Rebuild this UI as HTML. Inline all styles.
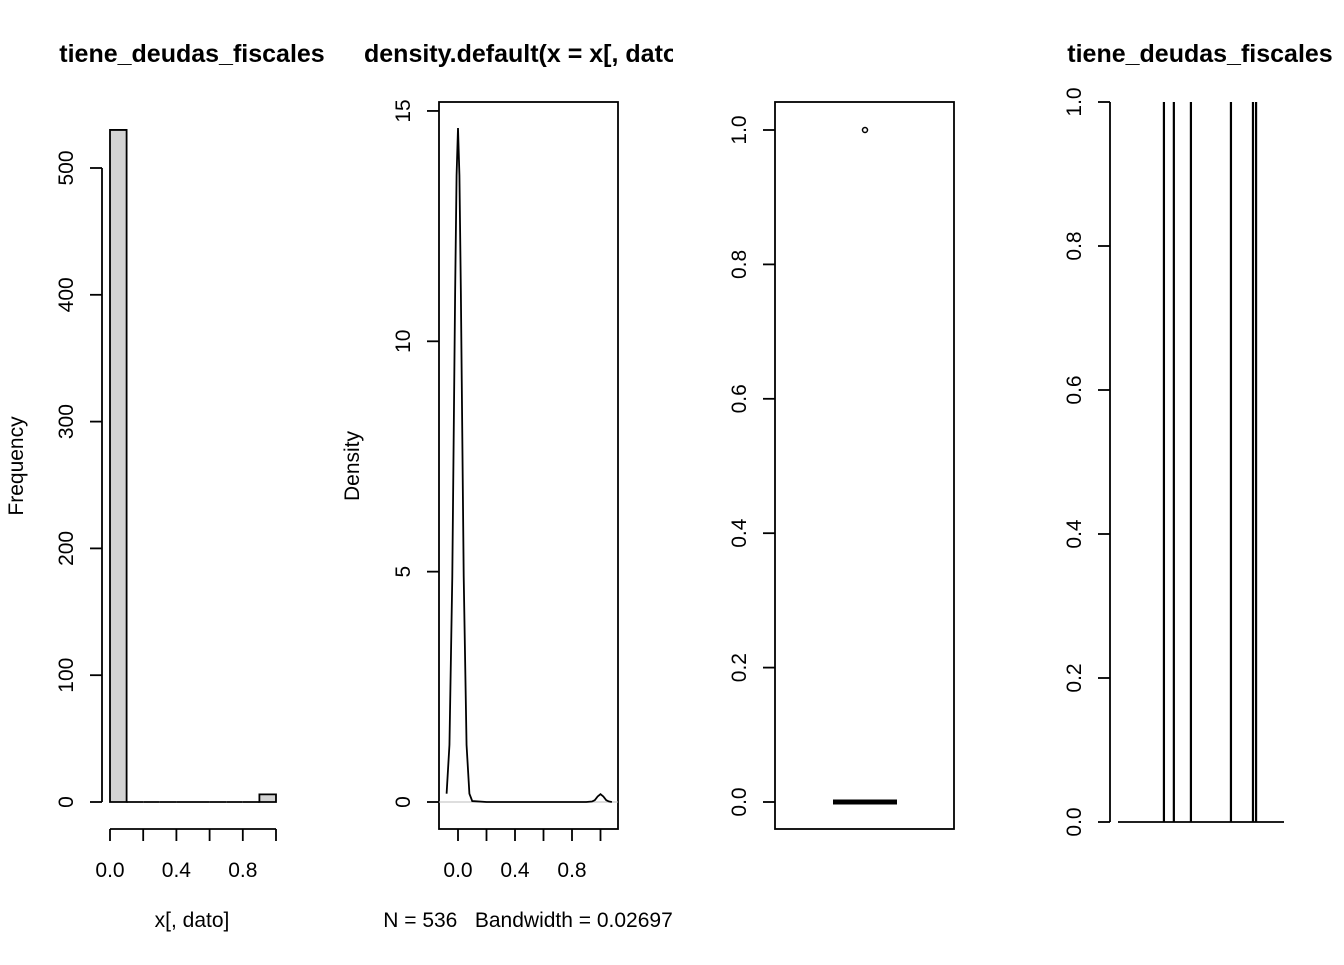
<!DOCTYPE html>
<html><head><meta charset="utf-8"><style>
body{margin:0;background:#fff}
svg text{font-family:"Liberation Sans",Arial,sans-serif;fill:#000}
</style></head><body>
<svg id="c" width="1344" height="960" xmlns="http://www.w3.org/2000/svg">
<defs><clipPath id="clip2"><rect x="330" y="0" width="343" height="100"/></clipPath></defs>
</svg>
<script>
// histogram data
const histBreaks=[0,0.1,0.2,0.3,0.4,0.5,0.6,0.7,0.8,0.9,1.0];
const histCounts=[530,0,0,0,0,0,0,0,0,6];
const histYTicks=[0,100,200,300,400,500];
const histXTicks=[0,0.2,0.4,0.6,0.8,1.0];
const histXLabels=["0.0","0.4","0.8"];
// density data
const densX=[-0.08,-0.06,-0.04,-0.02,-0.01,0,0.01,0.02,0.04,0.06,0.08,0.10,0.2,0.4,0.6,0.8,0.9,0.94,0.96,0.98,1.0,1.02,1.04,1.06,1.08];
const densY=[0.18,1.24,4.9,11.1,13.6,14.63,13.6,11.1,4.9,1.24,0.18,0.02,0,0,0,0,0,0.01,0.04,0.12,0.17,0.12,0.04,0.01,0.0];
const densYTicks=[0,5,10,15];
const densXTicks=[0,0.2,0.4,0.6,0.8,1.0];
// boxplot data
const boxMedian=0, boxQ1=0, boxQ3=0, boxOutliers=[1];
const boxYTicks=[0,0.2,0.4,0.6,0.8,1.0];
// index plot data
const idxN=536;
const idxOnes=[149,181,236,365,436,446];
const idxYTicks=[0,0.2,0.4,0.6,0.8,1.0];

const svg=document.getElementById('c');const NS='http://www.w3.org/2000/svg';
function el(t,a,txt){const e=document.createElementNS(NS,t);for(const k in a)e.setAttribute(k,a[k]);if(txt!==undefined)e.textContent=txt;svg.appendChild(e);return e;}
function ln(x1,y1,x2,y2,w,c){return el('line',{x1,y1,x2,y2,stroke:c||'#000','stroke-width':w||1.8});}
const FS=21;
function ytick(x,y,label){const l=ln(x-12,y,x,y,1.8);
 const t=el('text',{x:x-29,y:y,'font-size':FS,'text-anchor':'middle',transform:`rotate(-90 ${x-29} ${y})`},label);
 }
function xlab(x,y,s){const t=el('text',{x,y,'font-size':FS,'text-anchor':'middle'},s);}
function title(x,y,s,anchor){const t=el('text',{x,y,'font-size':25,'font-weight':'bold','text-anchor':anchor||'middle'},s);return t;}

// Panel 1 histogram
{const hx=v=>110+v*166, hy=v=>802-v*1.268;
 title(192,62,'tiene_deudas_fiscales');
 for(let i=0;i<histCounts.length;i++){const x0=hx(histBreaks[i]),x1=hx(histBreaks[i+1]),y=hy(histCounts[i]);
  const r=el('path',{d:`M${x0},802L${x0},${y}L${x1},${y}L${x1},802Z`,fill:'#d3d3d3',stroke:'#000','stroke-width':1.8});
  }
 ln(102,hy(0),102,hy(500));histYTicks.forEach(v=>ytick(102,hy(v),String(v)));
 ln(hx(0),829,hx(1),829);histXTicks.forEach(v=>ln(hx(v),829,hx(v),841));
 histXLabels.forEach(s=>xlab(hx(+s),877,s));
 const t=el('text',{x:192,y:927,'font-size':FS,'text-anchor':'middle'},'x[, dato]');
 const f=el('text',{x:23,y:466,'font-size':FS,'text-anchor':'middle',transform:'rotate(-90 23 466)'},'Frequency');}

// Panel 2 density
{const dx=v=>458+v*142.5, dy=v=>802-v*46.07;
 const tt=title(364,62,'density.default(x = x[, dato]','start');tt.setAttribute('clip-path','url(#clip2)');
 const fr=el('rect',{x:439,y:102,width:179,height:727,fill:'none',stroke:'#000','stroke-width':1.8});
 ln(439,dy(0),618,dy(0),1,'#bebebe');
 const p=el('path',{d:densX.map((x,i)=>(i?'L':'M')+dx(x)+','+dy(densY[i])).join(''),fill:'none',stroke:'#000','stroke-width':1.8});
 
 densYTicks.forEach(v=>ytick(439,dy(v),String(v)));
 densXTicks.forEach(v=>ln(dx(v),829,dx(v),841));
 ["0.0","0.4","0.8"].forEach(s=>xlab(dx(+s),877,s));
 const t=el('text',{x:528,y:927,'font-size':FS,'text-anchor':'middle'},'N = 536   Bandwidth = 0.02697');t.style.whiteSpace='pre';
 const f=el('text',{x:359,y:466,'font-size':FS,'text-anchor':'middle',transform:'rotate(-90 359 466)'},'Density');}

// Panel 3 boxplot
{const by=v=>802-v*672;
 const fr=el('rect',{x:775,y:102,width:179,height:727,fill:'none',stroke:'#000','stroke-width':1.8});
 const m=ln(833,by(boxMedian),897,by(boxMedian),5);
 boxOutliers.forEach(v=>{const c=el('circle',{cx:865,cy:by(v),r:2.5,fill:'none',stroke:'#000','stroke-width':1.5});});
 boxYTicks.forEach(v=>ytick(775,by(v),v.toFixed(1)));}

// Panel 4 index plot
{const ix=i=>1118+(i-1)*166/(idxN-1), iy=v=>822-v*720;
 title(1200,62,'tiene_deudas_fiscales');
 ln(1110,iy(0),1110,iy(1));idxYTicks.forEach(v=>ytick(1110,iy(v),v.toFixed(1)));
 const b=ln(ix(1),iy(0),ix(idxN),iy(0));
 idxOnes.forEach(i=>{const l=ln(ix(i),iy(0),ix(i),iy(1),2.2);});}
</script>
</body></html>
